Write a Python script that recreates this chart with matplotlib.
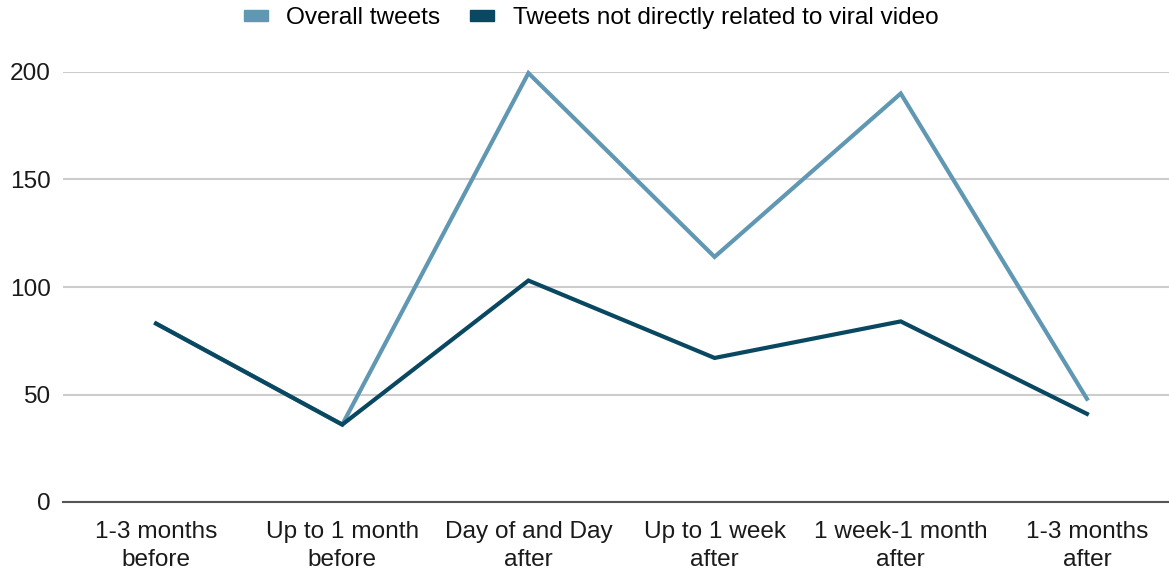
import matplotlib
matplotlib.use("Agg")
import matplotlib.pyplot as plt
from matplotlib.patches import Patch
import numpy as np

categories = ["1-3 months\nbefore", "Up to 1 month\nbefore", "Day of and Day\nafter",
              "Up to 1 week\nafter", "1 week-1 month\nafter", "1-3 months\nafter"]
overall = [83, 36, 199.5, 114, 190, 48]
not_related = [83, 36, 103, 67, 84, 41]
yticks = [0, 50, 100, 150, 200]

light = "#6097b2"
dark = "#0a4862"

plt.rcParams['font.family'] = ['Liberation Sans', 'DejaVu Sans']

W, H = 1169, 571
FS = 17.6
fig = plt.figure(figsize=(W / 100, H / 100), dpi=100)
ax = fig.add_axes([63 / W, 69 / H, (1180 - 63) / W, (502 - 72) / H])

x = np.arange(len(categories))
ax.plot(x, overall, color=light, lw=3, clip_on=False, zorder=3, solid_joinstyle='miter')
ax.plot(x, not_related, color=dark, lw=3, clip_on=False, zorder=4, solid_joinstyle='miter')

ax.set_xlim(-0.5, len(categories) - 0.5)
ax.set_ylim(0, 200)
ax.set_yticks(yticks)
ax.set_yticklabels([str(v) for v in yticks], fontsize=FS)
ax.set_xticks(x)
ax.set_xticklabels(categories, fontsize=FS, linespacing=1.3)
ax.tick_params(axis='both', length=0, colors='#1a1a1a')
ax.tick_params(axis='y', pad=9)
ax.tick_params(axis='x', pad=14)

ax.grid(axis='y', color='#cccccc', lw=1.5)
ax.set_axisbelow(True)
for s in ['top', 'right', 'left']:
    ax.spines[s].set_visible(False)
ax.spines['bottom'].set_color('#555555')
ax.spines['bottom'].set_linewidth(1.5)
ax.spines['bottom'].set_zorder(2)

handles = [Patch(color=light, label="Overall tweets"),
           Patch(color=dark, label="Tweets not directly related to viral video")]
fig.legend(handles=handles, loc='center', bbox_to_anchor=(591 / W, 1 - 18 / H),
           ncol=2, frameon=False, fontsize=FS, handlelength=1.0, handleheight=0.33,
           handletextpad=0.75, columnspacing=1.2, borderaxespad=0)

fig.savefig("out.png", dpi=100)
